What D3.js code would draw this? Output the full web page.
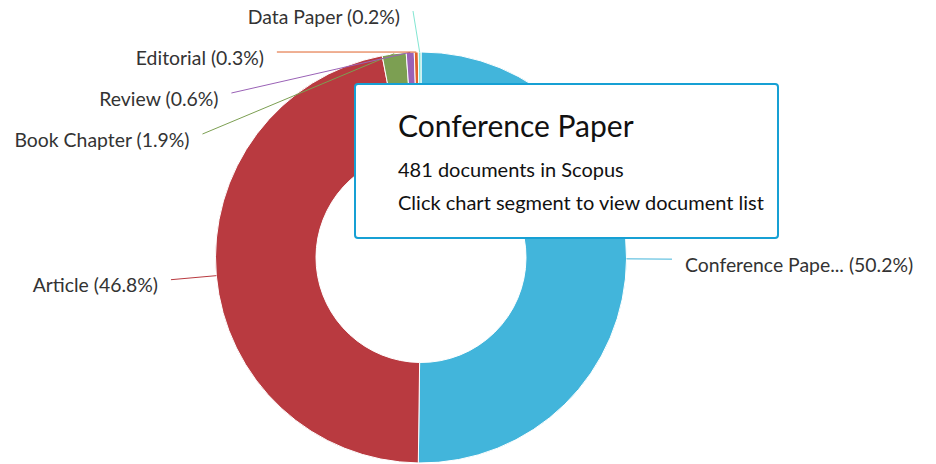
<!DOCTYPE html>
<html>
<head>
<meta charset="utf-8">
<script src="https://cdn.jsdelivr.net/npm/d3@7"></script>
<style>
  body { margin: 0; background: #fff; }
  svg { display: block; font-family: Lato, "Open Sans", sans-serif; }
</style>
</head>
<body>
<div id="chart"></div>
<script>
const width = 936, height = 464

// document types (clockwise from 12 o'clock)
const types = ['Conference Paper', 'Article', 'Book Chapter', 'Review', 'Editorial', 'Data Paper']
const labelNames = ['Conference Pape...', 'Article', 'Book Chapter', 'Review', 'Editorial', 'Data Paper']
const counts = [481, 448, 18, 6, 3, 2]
const colors = ['#42b5db', '#b93a40', '#7c9f52', '#9a62b6', '#e0622a', '#82e6d2']

const cx = 421, cy = 257.5
const outerR = 205.5, innerR = 105
const labelR = 251, labelGap = 41, topLimit = 11

const total = d3.sum(counts)
const data = types.map((t, i) => ({ type: t, name: labelNames[i], count: counts[i], color: colors[i] }))

const pie = d3.pie().sort(null).value(d => d.count)
const arcs = pie(data)
const arc = d3.arc().innerRadius(innerR).outerRadius(outerR)

const svg = d3.select('#chart').append('svg')
  .attr('width', width).attr('height', height)

const g = svg.append('g').attr('transform', 'translate(' + cx + ',' + cy + ')')

g.selectAll('path.slice')
  .data(arcs)
  .enter().append('path')
    .attr('class', 'slice')
    .attr('d', arc)
    .attr('fill', d => d.data.color)
    .attr('stroke', '#fff')
    .attr('stroke-width', 1)

// label layout: natural position on a bigger circle, then push apart
arcs.forEach(d => {
  d.mid = (d.startAngle + d.endAngle) / 2
  d.left = Math.sin(d.mid) < 0
  d.ny = -labelR * Math.cos(d.mid)
})
const sides = [arcs.filter(d => d.left), arcs.filter(d => !d.left)]
sides.forEach(side => {
  side.sort((a, b) => a.ny - b.ny || b.mid - a.mid)
  let prev = -Infinity
  side.forEach(d => {
    const pushed = prev + labelGap > d.ny
    let y = Math.max(d.ny, prev + labelGap, topLimit - cy)
    d.ly = y
    prev = y
    let dx
    if (pushed) dx = Math.sqrt(Math.max(0, labelR * labelR - y * y))
    else dx = Math.max(8, Math.abs(labelR * Math.sin(d.mid)))
    d.lx = d.left ? -dx : dx
  })
})

g.selectAll('line.conn')
  .data(arcs)
  .enter().append('line')
    .attr('class', 'conn')
    .attr('x1', d => d.lx)
    .attr('y1', d => d.ly)
    .attr('x2', d => outerR * Math.sin(d.mid))
    .attr('y2', d => -outerR * Math.cos(d.mid))
    .attr('stroke', d => d.data.color)
    .attr('stroke-width', 1)

g.selectAll('text.lbl')
  .data(arcs)
  .enter().append('text')
    .attr('class', 'lbl')
    .attr('x', d => d.lx + (d.left ? -13 : 13))
    .attr('y', d => d.ly + 12.5)
    .attr('text-anchor', d => d.left ? 'end' : 'start')
    .style('font-size', '19.4px')
    .style('fill', '#333')
    .text(d => d.data.name + ' (' + (d.data.count / total * 100).toFixed(1) + '%)')

// tooltip for the hovered segment
const hover = data[0]
const tip = svg.append('g').attr('transform', 'translate(355,84)')
tip.append('rect')
  .attr('width', 423).attr('height', 154)
  .attr('rx', 3)
  .attr('fill', '#fff')
  .attr('stroke', '#16a0d4')
  .attr('stroke-width', 2)
tip.append('text')
  .attr('x', 43).attr('y', 53)
  .style('font-size', '30px')
  .style('fill', '#111')
  .text(hover.type)
tip.append('text')
  .attr('x', 43).attr('y', 93)
  .style('font-size', '20px')
  .style('fill', '#111')
  .text(hover.count + ' documents in Scopus')
tip.append('text')
  .attr('x', 43).attr('y', 126)
  .style('font-size', '20px')
  .style('fill', '#111')
  .text('Click chart segment to view document list')
</script>
</body>
</html>
